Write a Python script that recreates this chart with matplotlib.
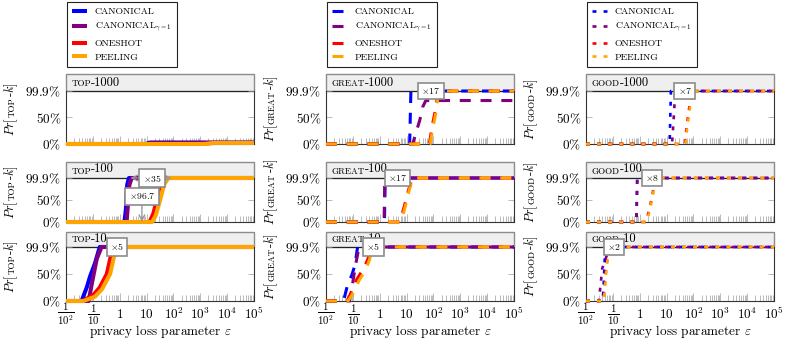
import numpy as np
import matplotlib.pyplot as plt
from matplotlib.lines import Line2D
from matplotlib.patches import Rectangle
from matplotlib.ticker import LogLocator, NullFormatter

plt.rcParams['font.family'] = 'cmr10'
plt.rcParams['mathtext.fontset'] = 'cm'
plt.rcParams['axes.formatter.use_mathtext'] = True

# ---- data ----
series_names = ['CANONICAL', r'CANONICAL$_{\gamma=1}$', 'ONESHOT', 'PEELING']
series_colors = ['#0000ff', '#800080', '#ff0000', '#ffa500']
groups = ['TOP', 'GREAT', 'GOOD']
sizes = ['1000', '100', '10']

# one list per series: canonical, canonical_g1, oneshot, peeling
top1000_x = [[0.01, 10, 12, 1e5], [0.01, 12, 14, 1e5], [0.01, 1000, 3000, 1e5], [0.01, 1500, 3000, 1e5]]
top1000_y = [[0, 0, 0.025, 0.025], [0, 0, 0.025, 0.025], [0, 0, 0.02, 0.02], [0, 0, 0.02, 0.02]]
top100_x = [[0.01, 1.5, 1.7, 1.9, 2.2, 1e5], [0.01, 1.8, 2.0, 2.3, 2.8, 1e5],
            [0.01, 13, 18, 24, 32, 42, 1e5], [0.01, 16, 22, 32, 45, 65, 1e5]]
top100_y = [[0, 0, 0.3, 0.85, 1, 1], [0, 0, 0.35, 0.85, 1, 1],
            [0, 0, 0.2, 0.5, 0.85, 1, 1], [0, 0, 0.15, 0.5, 0.85, 1, 1]]
top10_x = [[0.01, 0.038, 0.06, 0.078, 0.12, 0.18, 1e5], [0.01, 0.07, 0.09, 0.11, 0.14, 0.21, 1e5],
           [0.01, 0.04, 0.1, 0.18, 0.33, 0.45, 0.58, 1e5], [0.01, 0.045, 0.12, 0.22, 0.44, 0.6, 0.8, 1e5]]
top10_y = [[0, 0, 0.26, 0.45, 0.7, 1, 1], [0, 0, 0.3, 0.52, 0.78, 1, 1],
           [0, 0, 0.1, 0.25, 0.5, 0.8, 1, 1], [0, 0, 0.08, 0.22, 0.5, 0.8, 1, 1]]

great1000_x = [[0.01, 13, 14.5, 1e5], [0.01, 17, 20, 31, 40, 52, 1e5],
               [0.01, 70, 95, 123, 150, 1e5], [0.01, 75, 100, 130, 155, 1e5]]
great1000_y = [[0, 0, 1, 1], [0, 0, 0.13, 0.45, 0.7, 0.82, 0.82],
               [0, 0, 0.4, 0.68, 1, 1], [0, 0, 0.35, 0.65, 1, 1]]
great100_x = [[0.01, 1.5, 1.6, 1e5], [0.01, 1.45, 1.55, 1e5],
              [0.01, 5.5, 7, 9, 11.5, 16, 1e5], [0.01, 6, 7.5, 9.5, 12, 17, 1e5]]
great100_y = [[0, 0, 1, 1], [0, 0, 1, 1],
              [0, 0, 0.2, 0.45, 0.7, 1, 1], [0, 0, 0.18, 0.42, 0.68, 1, 1]]
great10_x = [[0.01, 0.045, 0.051, 0.066, 0.092, 0.12, 0.15, 1e5], [0.01, 0.075, 0.09, 0.11, 0.13, 0.17, 1e5],
             [0.01, 0.06, 0.078, 0.14, 0.25, 0.36, 0.48, 1e5], [0.01, 0.065, 0.09, 0.17, 0.3, 0.42, 0.55, 1e5]]
great10_y = [[0, 0, 0.11, 0.33, 0.48, 0.67, 1, 1], [0, 0, 0.2, 0.48, 0.7, 1, 1],
             [0, 0, 0.11, 0.4, 0.6, 0.77, 1, 1], [0, 0, 0.1, 0.38, 0.58, 0.77, 1, 1]]

good1000_x = [[0.01, 13, 14.5, 1e5], [0.01, 16, 18.5, 21, 1e5],
              [0.01, 48, 55, 66, 78, 88, 1e5], [0.01, 50, 58, 70, 82, 92, 1e5]]
good1000_y = [[0, 0, 1, 1], [0, 0, 0.5, 1, 1],
              [0, 0, 0.3, 0.6, 0.85, 1, 1], [0, 0, 0.28, 0.58, 0.85, 1, 1]]
good100_x = [[0.01, 0.76, 0.8, 1e5], [0.01, 0.75, 0.82, 1e5],
             [0.01, 1.7, 2.3, 3.0, 3.6, 1e5], [0.01, 1.8, 2.4, 3.1, 3.8, 1e5]]
good100_y = [[0, 0, 1, 1], [0, 0, 1, 1],
             [0, 0, 0.3, 0.62, 1, 1], [0, 0, 0.28, 0.6, 1, 1]]
good10_x = [[0.01, 0.042, 0.046, 0.05, 0.055, 1e5], [0.01, 0.03, 0.035, 0.04, 0.06, 0.1, 1e5],
            [0.01, 0.045, 0.05, 0.056, 0.065, 0.078, 1e5], [0.01, 0.046, 0.052, 0.058, 0.067, 0.08, 1e5]]
good10_y = [[0, 0, 0.35, 0.8, 1, 1], [0, 0, 0.3, 0.6, 0.85, 1, 1],
            [0, 0, 0.3, 0.6, 0.85, 1, 1], [0, 0, 0.3, 0.6, 0.85, 1, 1]]

panel_x = [[top1000_x, top100_x, top10_x], [great1000_x, great100_x, great10_x], [good1000_x, good100_x, good10_x]]
panel_y = [[top1000_y, top100_y, top10_y], [great1000_y, great100_y, great10_y], [good1000_y, good100_y, good10_y]]

# speed-up factor labels: (column, row, eps position, label)
factor_labels = [(0, 1, 16, '35'), (0, 2, 0.8, '5'),
                 (1, 0, 80, '17'), (1, 1, 4.6, '17'), (1, 2, 0.58, '5'),
                 (2, 0, 48, '7'), (2, 1, 2.9, '8'), (2, 2, 0.11, '2')]

xtick_vals = [1e-2, 1e-1, 1, 10, 1e2, 1e3, 1e4, 1e5]
xtick_labels = [r'$\frac{1}{10^2}$', r'$\frac{1}{10}$', r'$1$', r'$10$', r'$10^2$', r'$10^3$', r'$10^4$', r'$10^5$']

# ---- styles ----
col_styles = [dict(ls='-', lw=2.9), dict(ls=(0, (3.6, 3.2)), lw=2.2), dict(ls=(0, (1.5, 2.7)), lw=1.9)]

fig = plt.figure(figsize=(7.89, 3.47), dpi=100)
W, H = 789.0, 347.0
col_left = [66, 326, 586]
rows_px = [(74, 91, 144), (162, 178, 222), (232, 247, 301)]  # frame top, 99.9% line, 0% line
renderer = fig.canvas.get_renderer()


def header(ax, x, y, parts):
    t = ax.text(x, y, parts[0][0], fontsize=parts[0][1], transform=ax.transAxes,
                ha='left', va='baseline', zorder=4)
    for s, fs in parts[1:]:
        t = ax.annotate(s, xy=(1, 0), xycoords=t, fontsize=fs, ha='left', va='bottom', zorder=4)


def vlabel(ax, x, parts):
    # rotated label made of pieces of different sizes, centred on the axes
    texts = [ax.text(x, 0, s, fontsize=fs, rotation=90, rotation_mode='anchor',
                     ha='left', va='baseline', transform=ax.transAxes) for s, fs in parts]
    lens = [t.get_window_extent(renderer).height for t in texts]
    bb = ax.get_window_extent(renderer)
    y = (bb.y0 + bb.y1) / 2 - sum(lens) / 2
    for t, l in zip(texts, lens):
        t.set_y((y - bb.y0) / bb.height)
        y += l


axes = {}
for c in range(3):
    for r in range(3):
        top, line, bot = rows_px[r]
        ytop = (bot - top) / float(bot - line)
        ax = fig.add_axes([col_left[c] / W, (H - bot) / H, 188 / W, (bot - top) / H])
        axes[c, r] = ax
        ax.set_xscale('log')
        ax.set_xlim(1e-2, 1e5)
        ax.set_ylim(0, ytop)
        # header strip
        ax.add_patch(Rectangle((0, 1 / ytop), 1, 1 - 1 / ytop, transform=ax.transAxes,
                               fc='#efefef', ec='#8c8c8c', lw=1.0, zorder=1, clip_on=False))
        ax.axhline(1, color='#222222', lw=0.8, zorder=1.5)
        for side in ['left', 'right']:
            ax.spines[side].set_bounds(0, 1)
        ax.spines['top'].set_visible(False)
        for sp in ax.spines.values():
            sp.set_color('#333333')
            sp.set_linewidth(0.8)

        for k in range(4):
            ax.plot(panel_x[c][r][k], panel_y[c][r][k], color=series_colors[k],
                    solid_capstyle='butt', dash_capstyle='butt', clip_on=False, zorder=3, **col_styles[c])

        ax.set_xticks(xtick_vals)
        ax.xaxis.set_minor_locator(LogLocator(base=10, subs=np.arange(2, 10), numticks=20))
        ax.xaxis.set_minor_formatter(NullFormatter())
        ax.tick_params(axis='x', which='major', direction='in', length=6, width=0.5, color='#a0a0a0', top=False)
        ax.tick_params(axis='x', which='minor', direction='in', length=4, width=0.5, color='#a0a0a0', top=False)
        if r == 2:
            ax.set_xticklabels(xtick_labels, fontsize=9.5)
            for i, lab in enumerate(ax.get_xticklabels()):
                lab.set_va('center')
                if i < 2:
                    lab.set_fontsize(11)
            ax.tick_params(axis='x', which='major', pad=9.5)
            ax.set_xlabel(r'privacy loss parameter $\varepsilon$', fontsize=9.5)
            ax.xaxis.set_label_coords(0.5, -(332 - 301) / float(bot - top))
            ax.xaxis.label.set_va('center')
        else:
            ax.set_xticklabels([])

        ax.set_yticks([0, 0.5, 1])
        ax.set_yticklabels([r'$0\%$', r'$50\%$', r'$99.9\%$'], fontsize=9.5)
        ax.tick_params(axis='y', direction='in', length=4, width=0.5, color='#a0a0a0', right=True, pad=3.5)

        # header label and y label
        header(ax, 0.03, (bot - line + 4.5) / float(bot - top), [(groups[c], 6.5), ('-' + sizes[r], 9)])
        vlabel(ax, -0.275, [(r'$Pr$[', 9), (groups[c], 6.5), (r'-$k$]', 9)])

# speed-up boxes
for c, r, ex, lab in factor_labels:
    axes[c, r].text(ex, 1, r'$\times$' + lab, ha='center', va='center', fontsize=7, zorder=6,
                    bbox=dict(boxstyle='square,pad=0.35', fc='white', ec='#8c8c8c', lw=1.2))

# arrows in top-100 panel
ax = axes[0, 1]
ax.annotate('', xy=(87.5, 1), xytext=(2.5, 1), zorder=5,
            arrowprops=dict(arrowstyle='<->', color='#999999', lw=1.0, shrinkA=0, shrinkB=0))
ax.annotate('', xy=(6.7, 1), xytext=(6.7, 0), zorder=5,
            arrowprops=dict(arrowstyle='<->', color='#999999', lw=1.0, shrinkA=0, shrinkB=0))
ax.text(6.7, 0.58, r'$\times$96.7', ha='center', va='center', fontsize=7, zorder=6,
        bbox=dict(boxstyle='square,pad=0.35', fc='white', ec='#8c8c8c', lw=1.2))

# legends above each column
for c in range(3):
    handles = [Line2D([], [], color=series_colors[k], solid_capstyle='butt', dash_capstyle='butt',
                      **col_styles[c]) for k in range(4)]
    leg = axes[c, 0].legend(handles, series_names, loc='lower left', bbox_to_anchor=(0.005, 1.1),
                            fontsize=7, frameon=True, fancybox=False, framealpha=1, edgecolor='#222222',
                            borderpad=0.55, handlelength=1.5, handletextpad=0.8, labelspacing=0.5,
                            borderaxespad=0)
    leg.get_frame().set_linewidth(0.8)

fig.savefig('out.png', dpi=100)
